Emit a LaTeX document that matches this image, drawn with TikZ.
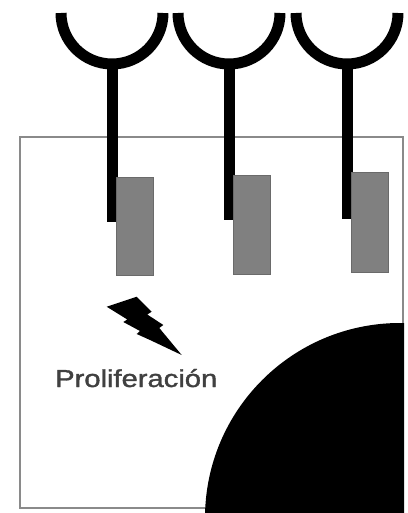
\documentclass[tikz,border=0pt]{standalone}
\usepackage{graphicx}
\usepackage{fontspec}
\setmainfont{Liberation Sans}
\newfontfamily\labelfont[FakeBold=1.3]{Liberation Sans}
\definecolor{boxline}{HTML}{8A8A8A}
\definecolor{domain}{HTML}{808080}
\definecolor{domainedge}{HTML}{6A6A6A}
\definecolor{labelgray}{HTML}{404040}
\tikzset{
  receptor/.style={line width=11pt, black, line cap=butt},
  kinase/.style={fill=domain, draw=domainedge, line width=0.8pt},
  cellwall/.style={draw=boxline, line width=1.8pt},
  labeltext/.style={inner sep=0pt, text=labelgray, font=\labelfont\fontsize{24.5}{28}\selectfont}
}
\begin{document}
\begin{tikzpicture}[x=1pt, y=-1pt]
  \useasboundingbox (0,0) rectangle (407,513);

  % cell membrane outline
  \draw[cellwall] (20,508) -- (20,137) -- (403,137) -- (403,508) -- cycle;

  % tumour mass in the lower right corner
  \begin{scope}
    \clip (0,0) rectangle (404,513);
    \fill[black] (400,518) circle (195);
  \end{scope}

  % receptors: ligand-binding cup, transmembrane stem, intracellular domain
  \foreach \cx/\stemend/\ktop/\kbot [count=\i] in
      {112/222/177/275, 229/220/175/274, 347/219/172/272} {
    \draw[receptor] (\cx-51,13) arc[start angle=180, end angle=0, radius=51];
    \draw[receptor] (\cx,60) -- (\cx,\stemend);
    \draw[kinase] (\cx+4.5,\ktop) rectangle (\cx+41,\kbot);
  }

  % lightning bolt (signal)
  \fill[black] (106.7,306.7) -- (136.7,296.7) -- (151.7,311.7) -- (147.3,314.5)
    -- (163.3,325) -- (159.3,328) -- (181.7,355) -- (150,340)
    -- (136.7,334) -- (140,331) -- (123.3,322) -- (127.3,319.5) -- cycle;

  \node[labeltext, anchor=base west] (prolif) at (55,387)
    {\scalebox{1.19}[1]{Proliferación}};
\end{tikzpicture}
\end{document}
